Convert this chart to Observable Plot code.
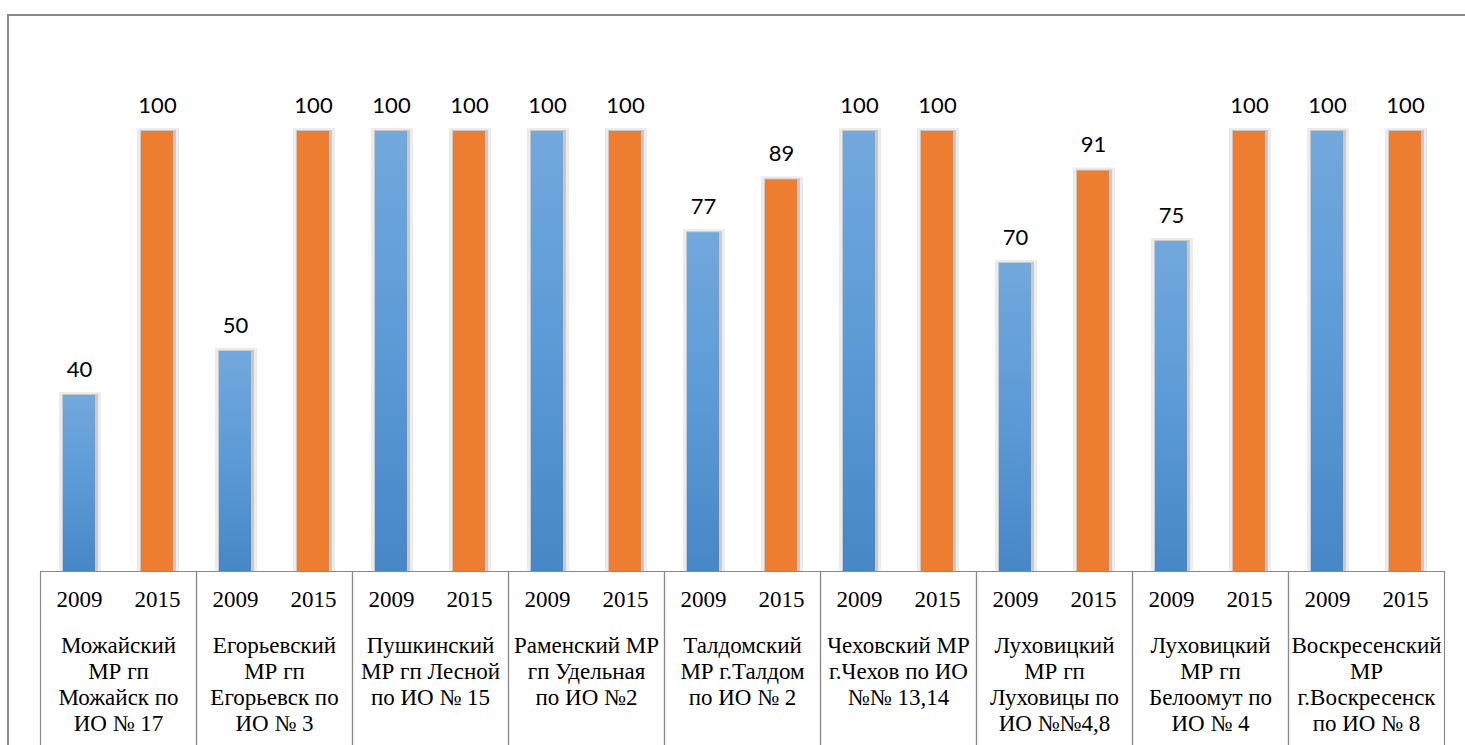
<!DOCTYPE html>
<html><head><meta charset="utf-8">
<script src="https://cdn.jsdelivr.net/npm/d3@7"></script>
<script src="https://cdn.jsdelivr.net/npm/@observablehq/plot@0.6"></script>
<style>
body{margin:0;background:#fff;}
#wrap{position:relative;width:1465px;height:745px;overflow:hidden;background:#fff;}
#frame{position:absolute;left:7px;top:14px;right:-5px;bottom:-5px;border-left:2px solid #8a8a8a;border-top:2px solid #8a8a8a;}
#chart{position:absolute;left:0;top:0;}
</style></head><body>
<div id="wrap"><div id="frame"></div><div id="chart"></div></div>
<script>
const groupLabels = [
  "Можайский\nМР гп\nМожайск по\nИО № 17",
  "Егорьевский\nМР гп\nЕгорьевск по\nИО № 3",
  "Пушкинский\nМР гп Лесной\nпо ИО № 15",
  "Раменский МР\nгп Удельная\nпо ИО №2",
  "Талдомский\nМР г.Талдом\nпо ИО № 2",
  "Чеховский МР\nг.Чехов по ИО\n№№ 13,14",
  "Луховицкий\nМР гп\nЛуховицы по\nИО №№4,8",
  "Луховицкий\nМР гп\nБелоомут по\nИО № 4",
  "Воскресенский\nМР\nг.Воскресенск\nпо ИО № 8"
];
const years = ["2009", "2015"];
const values2009 = [40, 50, 100, 100, 77, 100, 70, 75, 100];
const values2015 = [100, 100, 100, 100, 89, 100, 91, 100, 100];

const data = groupLabels.flatMap((g, i) => [
  {label: g, year: "2009", value: values2009[i]},
  {label: g, year: "2015", value: values2015[i]}
]);

const serif = "'Liberation Serif', 'Times New Roman', serif";
const sans = "Lato, 'Liberation Sans', sans-serif";

const svg = Plot.plot({
  width: 1465,
  height: 745,
  marginLeft: 37,
  marginRight: 18,
  marginTop: 131,
  marginBottom: 174,
  fx: {domain: groupLabels, paddingInner: 0, paddingOuter: 0, axis: null},
  x: {domain: years, paddingInner: 0.59, paddingOuter: 0.295, axis: null},
  y: {domain: [0, 100], axis: null},
  color: {domain: years, range: ["url(#blueGrad)", "#ed7d31"]},
  marks: [
    Plot.barY(data, {fx: "label", x: "year", y: "value", fill: "#ececec", insetLeft: -4, insetRight: -6, insetTop: -3}),
    Plot.barY(data, {fx: "label", x: "year", y: "value", fill: "#c9c9c9", insetLeft: -1, insetRight: -3, insetTop: -1}),
    Plot.barY(data, {fx: "label", x: "year", y: "value", fill: "year"}),
    Plot.text(data, {fx: "label", x: "year", y: "value", text: d => String(d.value), lineAnchor: "bottom", dy: -19, fontSize: 22, fontFamily: sans, fill: "#000"}),
    Plot.ruleY([0], {stroke: "#8a8a8a", strokeWidth: 1.2}),
    Plot.frame({anchor: "left", insetTop: 440, insetBottom: -180, stroke: "#8a8a8a", strokeWidth: 1.2}),
    Plot.frame({anchor: "right", insetTop: 440, insetBottom: -180, stroke: "#8a8a8a", strokeWidth: 1.2}),
    Plot.text(data, {fx: "label", x: "year", text: "year", frameAnchor: "bottom", dy: 35, fontSize: 23, fontFamily: serif, fill: "#000"}),
    Plot.text(groupLabels, {fx: d => d, text: d => d, frameAnchor: "bottom", lineAnchor: "top", dy: 63, lineHeight: 1.13, fontSize: 23, fontFamily: serif, fill: "#000"})
  ]
});

const ns = "http://www.w3.org/2000/svg";
const defs = document.createElementNS(ns, "defs");
const grad = document.createElementNS(ns, "linearGradient");
grad.setAttribute("id", "blueGrad");
grad.setAttribute("x1", "0"); grad.setAttribute("y1", "0");
grad.setAttribute("x2", "0"); grad.setAttribute("y2", "1");
[["0%", "#72a8dc"], ["50%", "#5b9ad6"], ["100%", "#4787c6"]].forEach(([o, c]) => {
  const s = document.createElementNS(ns, "stop");
  s.setAttribute("offset", o);
  s.setAttribute("stop-color", c);
  grad.appendChild(s);
});
defs.appendChild(grad);
svg.insertBefore(defs, svg.firstChild);
svg.style.background = "transparent";
document.getElementById("chart").appendChild(svg);
</script>
</body></html>
